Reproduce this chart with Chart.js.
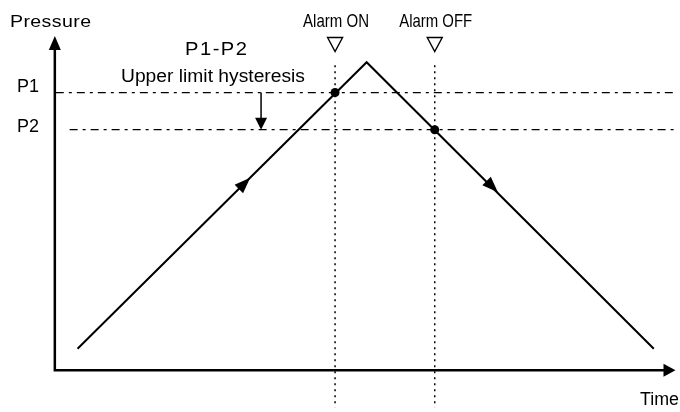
<!DOCTYPE html>
<html>
<head>
<meta charset="utf-8">
<script src="https://cdn.jsdelivr.net/npm/chart.js@4/dist/chart.umd.min.js"></script>
<style>
  html, body { margin: 0; padding: 0; background: #fff; }
  #wrap { width: 680px; height: 412px; }
</style>
</head>
<body>
<div id="wrap"><canvas id="hysteresisChart"></canvas></div>
<script>
// chart units: origin sits on the corner of the two axes
const timeValues = [23, 316, 607];
const pressureValues = [22, 315, 22];

const levelLabels = ['P1', 'P2'];
const levelValues = [284, 246];
const levelStarts = [1, 15];

const alarmLabels = ['Alarm ON', 'Alarm OFF'];
const alarmTimes = [284, 385];
const alarmPressures = [284, 246];

// tips of the direction arrows on the pressure line
const directionTimes = [198, 449];
const directionPressures = [197, 182];

const hysteresisTime = 209;

const timeMin = -51, timeMax = 629;
const pressureMin = -38, pressureMax = 374;

const black = '#000';
const FONT = '"Liberation Sans", Arial, sans-serif';

// squeeze narrow labels; widen others a little, then spread the rest
function fitText(ctx, text, x, y, width, size, align) {
  ctx.font = size + 'px ' + FONT;
  ctx.letterSpacing = '0px';
  const w = ctx.measureText(text).width;
  let left = x;
  if (align === 'center') left = x - width / 2;
  if (align === 'right') left = x - width;
  ctx.save();
  ctx.translate(left, y);
  ctx.textAlign = 'left';
  ctx.textBaseline = 'alphabetic';
  ctx.fillStyle = black;
  const sx = Math.min(width / w, 1.15);
  ctx.scale(sx, 1);
  if (sx < width / w && text.length > 1) {
    ctx.letterSpacing = ((width / sx - w) / (text.length - 1)) + 'px';
  }
  ctx.fillText(text, 0, 0);
  ctx.restore();
  ctx.letterSpacing = '0px';
}

function arrowHead(ctx, tx, ty, angle, len, width) {
  const bx = tx - Math.cos(angle) * len, by = ty - Math.sin(angle) * len;
  const nx = -Math.sin(angle) * width / 2, ny = Math.cos(angle) * width / 2;
  ctx.beginPath();
  ctx.moveTo(tx, ty);
  ctx.lineTo(bx + nx, by + ny);
  ctx.lineTo(bx - nx, by - ny);
  ctx.closePath();
  ctx.fillStyle = black;
  ctx.fill();
}

const decorations = {
  id: 'decorations',
  afterDatasetsDraw(chart) {
    const ctx = chart.ctx;
    const xs = chart.scales.x, ys = chart.scales.y;
    const ox = xs.getPixelForValue(0), oy = ys.getPixelForValue(0);
    const right = xs.getPixelForValue(timeMax);
    const top = 36;

    // axes
    ctx.save();
    ctx.strokeStyle = black;
    ctx.lineWidth = 2.5;
    ctx.beginPath();
    ctx.moveTo(ox, top + 10);
    ctx.lineTo(ox, oy);
    ctx.lineTo(right - 10, oy);
    ctx.stroke();
    arrowHead(ctx, ox, top, -Math.PI / 2, 14, 12);
    arrowHead(ctx, right, oy, 0, 12, 13);

    // direction arrows along the line
    directionTimes.forEach((t, i) => {
      const seg = i === 0 ? 0 : 1;
      const x0 = xs.getPixelForValue(timeValues[seg]), y0 = ys.getPixelForValue(pressureValues[seg]);
      const x1 = xs.getPixelForValue(timeValues[seg + 1]), y1 = ys.getPixelForValue(pressureValues[seg + 1]);
      const ang = Math.atan2(y1 - y0, x1 - x0);
      arrowHead(ctx, xs.getPixelForValue(t), ys.getPixelForValue(directionPressures[i]), ang, 16, 12);
    });

    // hysteresis arrow between P1 and P2
    const hx = xs.getPixelForValue(hysteresisTime);
    const p1 = ys.getPixelForValue(levelValues[0]), p2 = ys.getPixelForValue(levelValues[1]);
    ctx.lineWidth = 1.5;
    ctx.beginPath();
    ctx.moveTo(hx, p1);
    ctx.lineTo(hx, p2 - 8);
    ctx.stroke();
    arrowHead(ctx, hx, p2, Math.PI / 2, 12, 12);

    // alarm markers and labels
    ctx.lineWidth = 1.4;
    alarmTimes.forEach((t, i) => {
      const ax = xs.getPixelForValue(t);
      ctx.beginPath();
      ctx.moveTo(ax - 7.5, 37.5);
      ctx.lineTo(ax + 7.5, 37.5);
      ctx.lineTo(ax, 51.5);
      ctx.closePath();
      ctx.stroke();
      fitText(ctx, alarmLabels[i], ax + 1, 27, i === 0 ? 66 : 73, 19, 'center');
    });

    // level labels
    const levelOffsets = [-1, 2];
    levelLabels.forEach((lab, i) => {
      fitText(ctx, lab, 39, ys.getPixelForValue(levelValues[i]) + levelOffsets[i], 22, 17.5, 'right');
    });

    fitText(ctx, 'Pressure', 10, 27, 81, 17, 'left');
    fitText(ctx, 'P1-P2', 185, 55, 62, 17.5, 'left');
    fitText(ctx, 'Upper limit hysteresis', 121, 82, 184, 18, 'left');
    fitText(ctx, 'Time', 640, 405, 39, 18, 'left');
    ctx.restore();
  }
};

const datasets = [
  {
    data: timeValues.map((t, i) => ({ x: t, y: pressureValues[i] })),
    borderColor: black, borderWidth: 2, pointRadius: 0
  },
  ...levelValues.map((v, i) => ({
    data: [{ x: levelStarts[i], y: v }, { x: timeMax, y: v }],
    borderColor: black, borderWidth: 1.3, borderDash: [8, 5, 3, 5], pointRadius: 0
  })),
  ...alarmTimes.map(t => ({
    data: [{ x: t, y: 312 }, { x: t, y: pressureMin }],
    borderColor: black, borderWidth: 1.5, borderDash: [2, 4], pointRadius: 0
  })),
  {
    data: alarmTimes.map((t, i) => ({ x: t, y: alarmPressures[i] })),
    showLine: false, pointRadius: 4.5, pointBackgroundColor: black, pointBorderWidth: 0
  }
];
datasets.forEach(d => { if (d.showLine === undefined) d.showLine = true; d.fill = false; });

new Chart(document.getElementById('hysteresisChart'), {
  type: 'scatter',
  data: { datasets: datasets },
  options: {
    responsive: true,
    maintainAspectRatio: false,
    animation: false,
    layout: { padding: 0 },
    plugins: { legend: { display: false }, tooltip: { enabled: false } },
    scales: {
      x: { type: 'linear', min: timeMin, max: timeMax, display: false },
      y: { type: 'linear', min: pressureMin, max: pressureMax, display: false }
    }
  },
  plugins: [decorations]
});
</script>
</body>
</html>
